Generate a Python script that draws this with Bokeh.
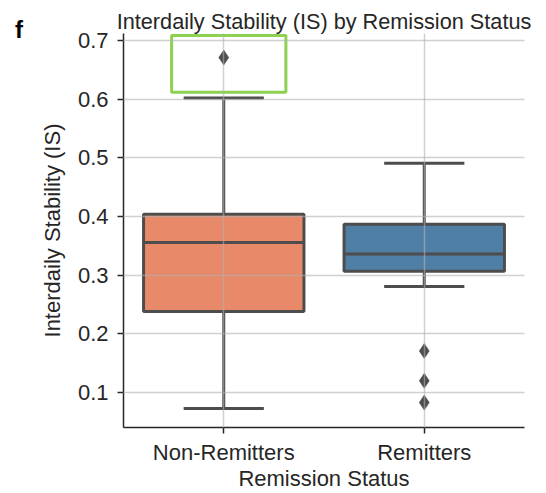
from bokeh.plotting import figure
from bokeh.models import ColumnDataSource, FactorRange, Range1d, FixedTicker, BoxAnnotation, Div
from bokeh.layouts import row
from bokeh.transform import dodge
from bokeh.embed import file_html
from bokeh.resources import INLINE

# ---- data ----
groups = ["Non-Remitters", "Remitters"]
lower_whisker = [0.073, 0.281]
q1 = [0.238, 0.307]
median = [0.356, 0.336]
q3 = [0.404, 0.387]
upper_whisker = [0.602, 0.491]
outlier_group = ["Non-Remitters", "Remitters", "Remitters", "Remitters"]
outlier_value = [0.671, 0.171, 0.120, 0.083]
box_colors = ["#e8896a", "#507fa6"]
y_ticks = [0.1, 0.2, 0.3, 0.4, 0.5, 0.6, 0.7]

LINE = "#4d4d4d"
TEXT = "#262626"
FONT = "Liberation Sans"

src = ColumnDataSource(dict(group=groups, lo=lower_whisker, q1=q1, med=median,
                            q3=q3, hi=upper_whisker, color=box_colors))
out_src = ColumnDataSource(dict(group=outlier_group, value=outlier_value))

p = figure(x_range=FactorRange(*groups), y_range=Range1d(0.0405, 0.712),
           width=516, height=493, output_backend="svg", toolbar_location=None,
           min_border_left=93, min_border_right=22, min_border_top=33, min_border_bottom=65,
           title="Interdaily Stability (IS) by Remission Status")
p.outline_line_color = None
p.background_fill_color = "white"

# whiskers
p.segment(x0="group", x1="group", y0="q3", y1="hi", line_color=LINE, line_width=3, source=src)
p.segment(x0="group", x1="group", y0="q1", y1="lo", line_color=LINE, line_width=3, source=src)
# boxes
p.vbar(x="group", width=0.8, bottom="q1", top="q3", fill_color="color",
       line_color=LINE, line_width=3, source=src)
# medians
p.segment(x0=dodge("group", -0.4, range=p.x_range), x1=dodge("group", 0.4, range=p.x_range),
          y0="med", y1="med", line_color=LINE, line_width=3, source=src)
# caps
p.segment(x0=dodge("group", -0.2, range=p.x_range), x1=dodge("group", 0.2, range=p.x_range),
          y0="hi", y1="hi", line_color=LINE, line_width=3, source=src)
p.segment(x0=dodge("group", -0.2, range=p.x_range), x1=dodge("group", 0.2, range=p.x_range),
          y0="lo", y1="lo", line_color=LINE, line_width=3, source=src)
# outliers
p.scatter(x="group", y="value", marker="diamond", size=15, fill_color=LINE,
          line_color=LINE, line_width=0.5, source=out_src)

# highlight box
p.add_layout(BoxAnnotation(left=0.24, right=0.81, bottom=0.612, top=0.7085,
                           fill_alpha=0, line_color="#8cd14f", line_alpha=1.0, line_width=3))

# grid
p.grid.grid_line_color = "#b0b0b0"
p.grid.grid_line_alpha = 0.6
p.grid.grid_line_width = 1.5
p.grid.level = "overlay"

# axes
p.yaxis.ticker = FixedTicker(ticks=y_ticks, minor_ticks=[])
for ax in (p.xaxis[0], p.yaxis[0]):
    ax.axis_line_color = TEXT
    ax.axis_line_width = 1.5
    ax.major_tick_line_color = TEXT
    ax.major_tick_line_width = 1.5
    ax.major_tick_out = 6
    ax.major_tick_in = 0
    ax.minor_tick_line_color = None
    ax.major_label_text_font = FONT
    ax.major_label_text_font_size = "22px"
    ax.major_label_text_color = TEXT
    ax.axis_label_text_font = FONT
    ax.axis_label_text_font_size = "22px"
    ax.axis_label_text_font_style = "normal"
    ax.axis_label_text_color = TEXT
p.xaxis.axis_label = "Remission Status"
p.yaxis.axis_label = "Interdaily Stability (IS)"
p.xaxis.major_label_standoff = 6
p.xaxis.axis_label_standoff = -2
p.yaxis.major_label_standoff = 9
p.yaxis.axis_label_standoff = 10

p.title.text_font = FONT
p.title.text_font_size = "21.7px"
p.title.text_font_style = "normal"
p.title.text_color = TEXT
p.title.align = "center"
p.title.standoff = 0

# panel letter
letter = Div(text="f", width=30, height=493, margin=(0, 0, 0, 0),
             styles={"font-family": FONT, "font-size": "24px", "font-weight": "bold",
                     "line-height": "24px", "color": "black",
                     "padding-left": "15px", "padding-top": "18px"})

layout = row(letter, p, spacing=0)

open("out.html", "w").write(file_html(layout, INLINE))
